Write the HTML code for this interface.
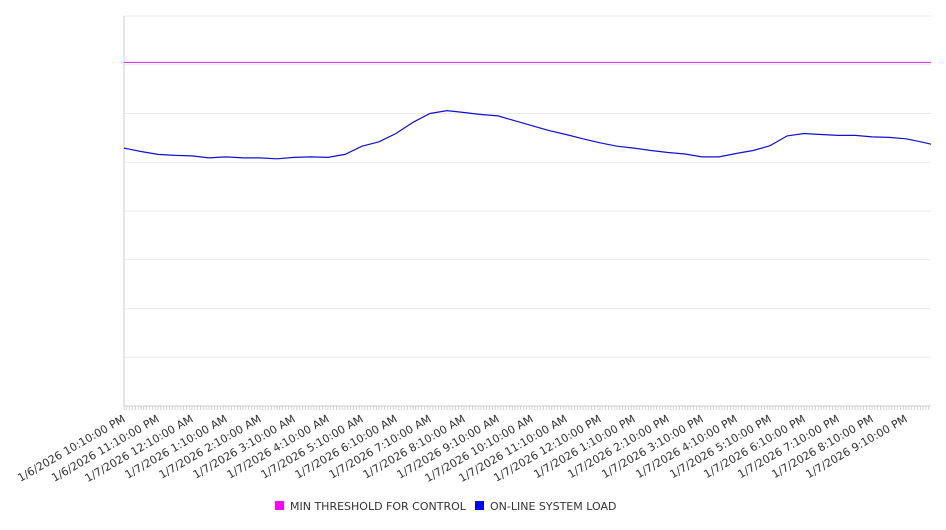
<!DOCTYPE html>
<html><head><meta charset="utf-8"><style>
body{margin:0;background:#fff;font-family:"DejaVu Sans","Liberation Sans",sans-serif;}
svg text{font-family:"DejaVu Sans","Liberation Sans",sans-serif;}
</style></head><body>
<svg id="chart" width="946" height="526"></svg>
<script>
const categories=["1/6/2026 10:10:00 PM","1/6/2026 11:10:00 PM","1/7/2026 12:10:00 AM","1/7/2026 1:10:00 AM","1/7/2026 2:10:00 AM","1/7/2026 3:10:00 AM","1/7/2026 4:10:00 AM","1/7/2026 5:10:00 AM","1/7/2026 6:10:00 AM","1/7/2026 7:10:00 AM","1/7/2026 8:10:00 AM","1/7/2026 9:10:00 AM","1/7/2026 10:10:00 AM","1/7/2026 11:10:00 AM","1/7/2026 12:10:00 PM","1/7/2026 1:10:00 PM","1/7/2026 2:10:00 PM","1/7/2026 3:10:00 PM","1/7/2026 4:10:00 PM","1/7/2026 5:10:00 PM","1/7/2026 6:10:00 PM","1/7/2026 7:10:00 PM","1/7/2026 8:10:00 PM","1/7/2026 9:10:00 PM"];
const loadMinutes=[0,30,60,90,120,150,180,210,240,270,300,330,360,390,420,450,480,510,540,570,600,630,660,690,720,750,780,810,840,870,900,930,960,990,1020,1050,1080,1110,1140,1170,1200,1230,1260,1290,1320,1350,1380,1410,1424];
const loadValues=[529,522,516,514,513,509,511,509,509,507,510,511,510,516,533,542,559,582,600,606,602,598,595,585,575,565,557,548,540,533,529,524,520,517,511,511,518,524,534,554,559,557,555,555,552,551,548,541,537];
const thresholdValue=[705];
const yTicks=[0,100,200,300,400,500,600,700,800];
const NS="http://www.w3.org/2000/svg";
const svg=document.getElementById('chart');
const L=124,R=931,T=16,B=406,maxMin=1424,maxV=800;
const xs=m=>L+(m/maxMin)*(R-L);
const ys=v=>B-(v/maxV)*(B-T);
function mk(t,a){const e=document.createElementNS(NS,t);for(const k in a)e.setAttribute(k,a[k]);svg.appendChild(e);return e;}
yTicks.forEach(v=>{const g=mk('line',{x1:L,x2:R,y1:ys(v),y2:ys(v),stroke:'#ebebeb','stroke-width':1});

});
const ax=mk('line',{x1:L,x2:L,y1:T,y2:B,stroke:'#ccc','stroke-width':1});


const bx=mk('line',{x1:L,x2:R,y1:B,y2:B,stroke:'#ccc','stroke-width':1});


for(let m=0;m<=maxMin;m+=5){const t=mk('line',{x1:xs(m),x2:xs(m),y1:B,y2:B+4,stroke:'#bbb','stroke-width':0.6});

}
categories.forEach((c,i)=>{const x=xs(i*60)+2;const y=B+15;const t=mk('text',{x:x,y:y,'font-size':11,fill:'#333','text-anchor':'end',transform:`rotate(-30 ${x} ${y})`});t.textContent=c;

});
const th=mk('line',{x1:L,x2:R,y1:ys(thresholdValue[0]),y2:ys(thresholdValue[0]),stroke:'#e020e0','stroke-width':1});


const pts=loadMinutes.map((m,i)=>xs(m).toFixed(1)+','+ys(loadValues[i]).toFixed(1)).join(' ');
const pl=mk('polyline',{points:pts,fill:'none',stroke:'#1010d0','stroke-width':1.2});


const l1=mk('rect',{x:275,y:501,width:9,height:9,fill:'#ff00ff'});


const t1=mk('text',{x:290,y:510,'font-size':11,fill:'#333'});t1.textContent='MIN THRESHOLD FOR CONTROL';


const l2=mk('rect',{x:475,y:501,width:9,height:9,fill:'#0000ff'});


const t2=mk('text',{x:490,y:510,'font-size':11,fill:'#333'});t2.textContent='ON-LINE SYSTEM LOAD';


</script>
</body></html>
